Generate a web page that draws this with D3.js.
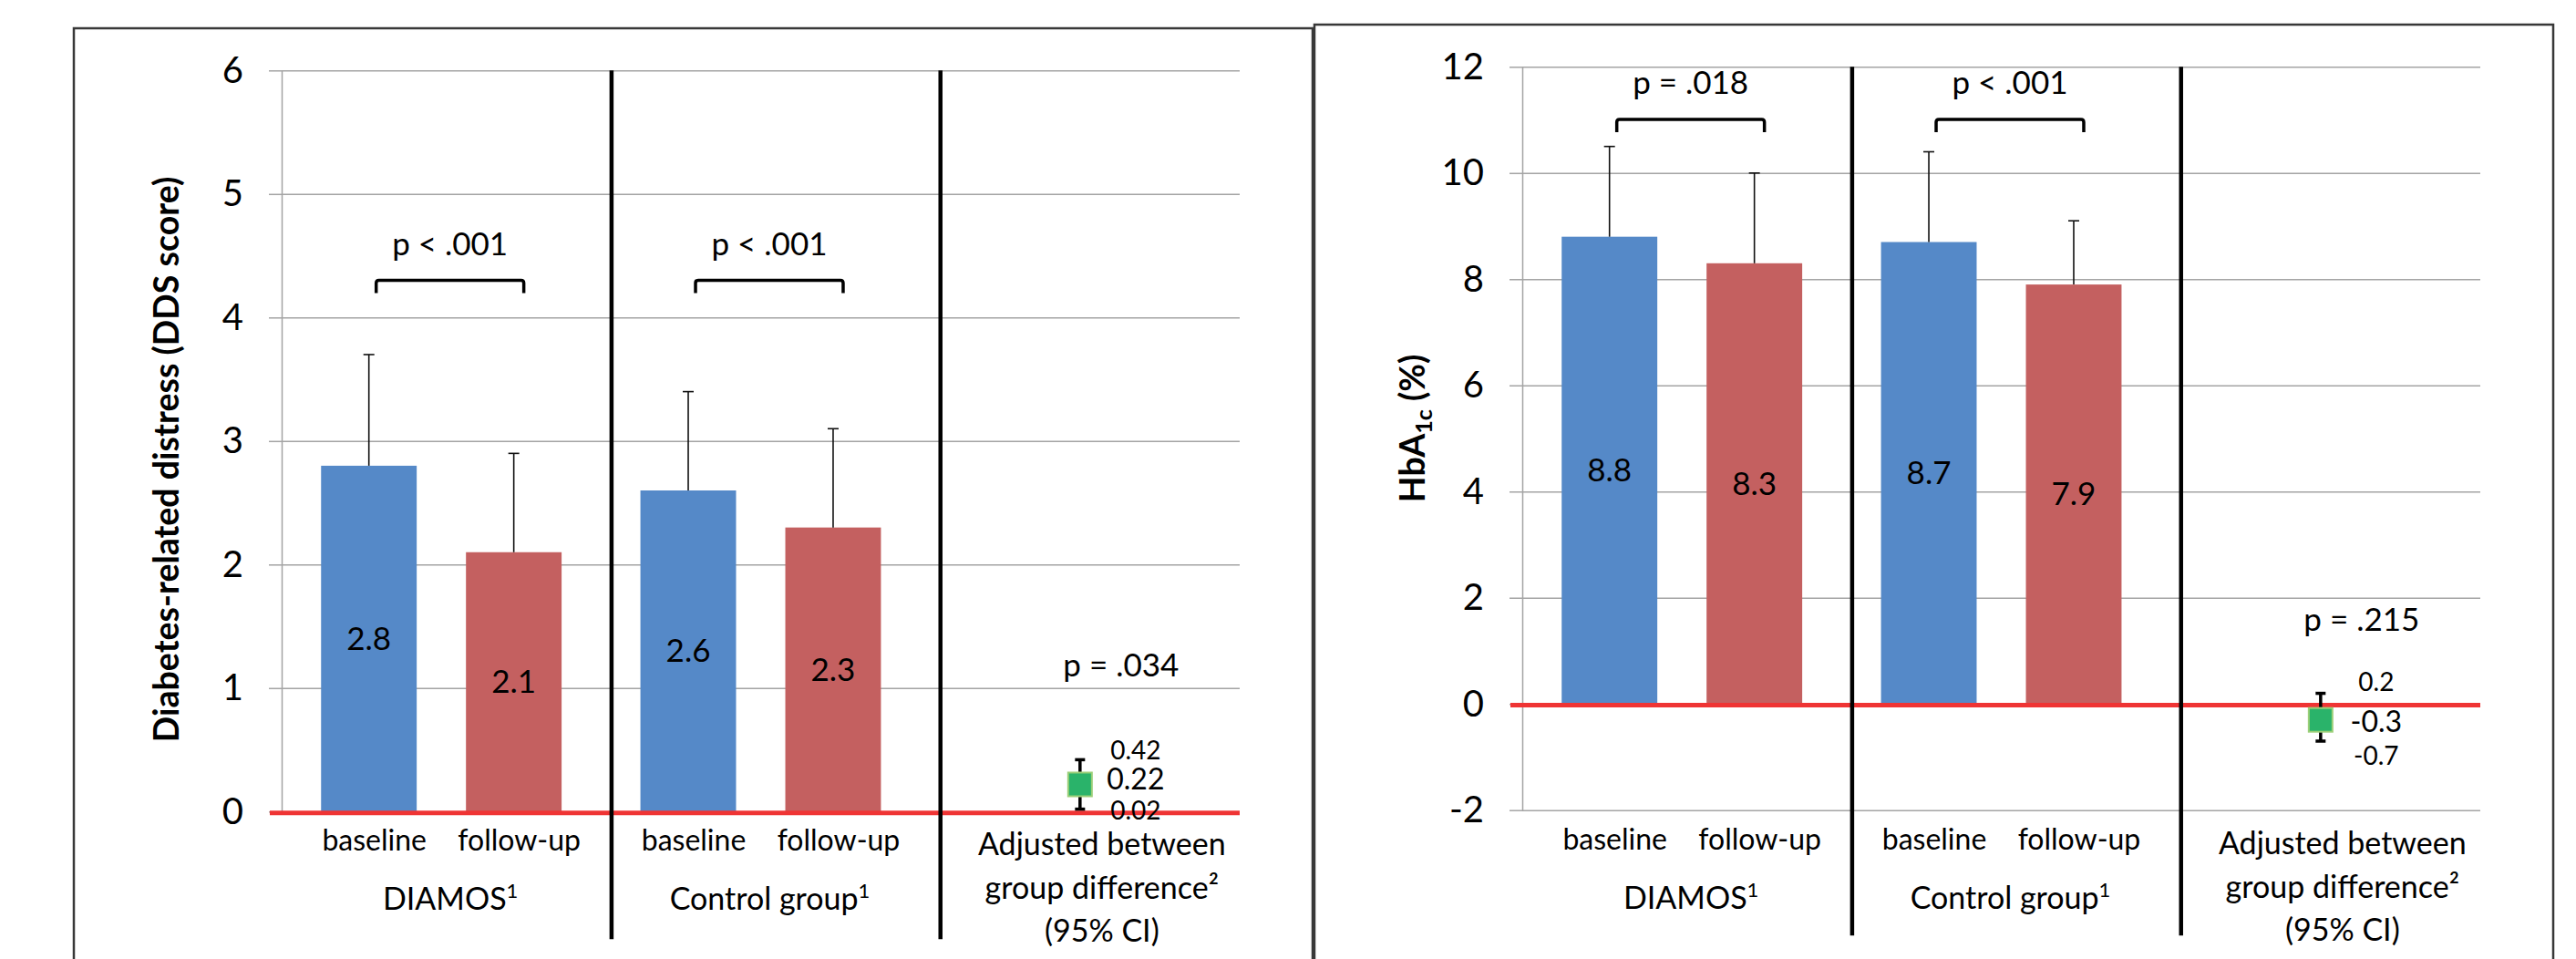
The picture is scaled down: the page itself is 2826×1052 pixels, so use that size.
<!DOCTYPE html>
<html>
<head>
<meta charset="utf-8">
<script src="https://cdn.jsdelivr.net/npm/d3@7"></script>
<style>
  body { margin: 0; background: #fff; }
  text { font-family: Lato, "Open Sans", sans-serif; fill: #000; }
</style>
</head>
<body>
<svg id="chart" width="2826" height="1052"></svg>
<script>
// ---- data ----
const groups = ["DIAMOS", "Control group", "Adjusted"];
const timepoints = ["baseline", "follow-up"];

// order: DIAMOS baseline, DIAMOS follow-up, control baseline, control follow-up
const ddsMeans = [2.8, 2.1, 2.6, 2.3];
const ddsSd = [0.9, 0.8, 0.8, 0.8];
const ddsDiff = [0.22, 0.02, 0.42];          // estimate, lower CI, upper CI
const ddsP = ["p < .001", "p < .001", "p = .034"];
const ddsTicks = [0, 1, 2, 3, 4, 5, 6];

const hbaMeans = [8.8, 8.3, 8.7, 7.9];
const hbaSd = [1.7, 1.7, 1.7, 1.2];
const hbaDiff = [-0.3, -0.7, 0.2];
const hbaP = ["p = .018", "p < .001", "p = .215"];
const hbaTicks = [-2, 0, 2, 4, 6, 8, 10, 12];

const colors = { "baseline": "#5589C8", "follow-up": "#C46060" };

const svg = d3.select("#chart");

// ---- layout for the two panels ----
const panels = [
  {
    frame: [81, 31], plot: { left: 309, right: 1360, top: 77.3, bottom: 890.3 },
    domain: [0, 6], ticks: ddsTicks, means: ddsMeans, sd: ddsSd, diff: ddsDiff, p: ddsP,
    title: "dds", titlePos: [183, 504], bracketY: 307.5, diffPY: 741.7, ciDy: [0, 6, 11]
  },
  {
    frame: [1442, 27], plot: { left: 1670, right: 2721, top: 73.3, bottom: 888.7 },
    domain: [-2, 12], ticks: hbaTicks, means: hbaMeans, sd: hbaSd, diff: hbaDiff, p: hbaP,
    title: "hba", titlePos: [1550, 470], bracketY: 131, diffPY: 691.7, ciDy: [-3, 13, 26]
  }
];

panels.forEach(drawPanel);

function drawPanel(cfg) {
  const p = cfg.plot;
  const width = p.right - p.left;

  const g = svg.append("g");

  // frame
  g.append("rect")
    .attr("x", cfg.frame[0]).attr("y", cfg.frame[1])
    .attr("width", 1359).attr("height", 1100)
    .attr("fill", "#fff").attr("stroke", "#383838").attr("stroke-width", 2.5);

  const y = d3.scaleLinear().domain(cfg.domain).range([p.bottom, p.top]);
  const x0 = d3.scaleBand().domain(groups).range([p.left, p.right]);
  const x1 = d3.scaleBand().domain(timepoints).range([0, x0.bandwidth()])
    .paddingInner(0.34).paddingOuter(0.272);
  const xs = d3.scaleLinear().domain([0, groups.length]).range([p.left, p.right]);

  // gridlines
  g.append("g")
    .attr("transform", "translate(" + p.left + ",0)")
    .call(d3.axisLeft(y).tickValues(cfg.ticks).tickSize(-width).tickFormat(""))
    .call(a => a.select(".domain").remove())
    .call(a => a.selectAll("line").attr("stroke", "#A4A4A4").attr("stroke-width", 1.5));

  // axis with outward ticks and labels
  g.append("g")
    .attr("transform", "translate(" + p.left + ",0)")
    .call(d3.axisLeft(y).tickValues(cfg.ticks).tickFormat(d => String(d))
      .tickSizeInner(14).tickSizeOuter(0).tickPadding(28))
    .call(a => a.select(".domain").attr("stroke", "#A4A4A4").attr("stroke-width", 1.5))
    .call(a => a.selectAll("line").attr("stroke", "#A4A4A4").attr("stroke-width", 1.5))
    .call(a => a.selectAll("text")
      .style("font-family", "Lato, 'Open Sans', sans-serif")
      .attr("font-size", 40).attr("fill", "#000"));

  // bars
  const bars = cfg.means.map((v, i) => ({
    group: groups[Math.floor(i / 2)], time: timepoints[i % 2], value: v, sd: cfg.sd[i]
  }));
  const cx = d => x0(d.group) + x1(d.time) + x1.bandwidth() / 2;

  g.selectAll(".bar").data(bars).enter().append("rect")
    .attr("class", "bar")
    .attr("x", d => x0(d.group) + x1(d.time))
    .attr("width", x1.bandwidth())
    .attr("y", d => y(d.value))
    .attr("height", d => y(0) - y(d.value))
    .attr("fill", d => colors[d.time]);

  // zero line
  g.append("line")
    .attr("x1", p.left - 13).attr("x2", p.right)
    .attr("y1", y(0) + 1.4).attr("y2", y(0) + 1.4)
    .attr("stroke", "#EF3434").attr("stroke-width", 5);

  // SD error bars (upper only)
  const eb = g.selectAll(".err").data(bars).enter().append("g").attr("class", "err");
  eb.append("line")
    .attr("x1", cx).attr("x2", cx)
    .attr("y1", d => y(d.value)).attr("y2", d => y(d.value + d.sd))
    .attr("stroke", "#111").attr("stroke-width", 1.6);
  eb.append("line")
    .attr("x1", d => cx(d) - 6).attr("x2", d => cx(d) + 6)
    .attr("y1", d => y(d.value + d.sd)).attr("y2", d => y(d.value + d.sd))
    .attr("stroke", "#111").attr("stroke-width", 1.6);

  // bar value labels
  g.selectAll(".val").data(bars).enter().append("text")
    .attr("x", cx)
    .attr("y", d => y(d.value / 2))
    .attr("dy", "0.35em")
    .attr("text-anchor", "middle")
    .attr("font-size", 35)
    .text(d => d.value.toFixed(1));

  // dividers between the groups
  [1.033, 2.063].forEach(t => {
    g.append("line")
      .attr("x1", xs(t)).attr("x2", xs(t))
      .attr("y1", p.top).attr("y2", p.top + 953)
      .attr("stroke", "#000").attr("stroke-width", 4.5);
  });

  // brackets with p values for the within-group change
  groups.slice(0, 2).forEach((grp, i) => {
    const a = x0(grp) + x1("baseline") + x1.bandwidth() / 2 + 8;
    const b = x0(grp) + x1("follow-up") + x1.bandwidth() / 2 + 11;
    const by = cfg.bracketY;
    g.append("path")
      .attr("d", "M" + a + "," + (by + 14) + "L" + a + "," + (by + 3) +
        "Q" + a + "," + by + " " + (a + 3) + "," + by +
        "L" + (b - 3) + "," + by + "Q" + b + "," + by + " " + b + "," + (by + 3) +
        "L" + b + "," + (by + 14))
      .attr("fill", "none").attr("stroke", "#000").attr("stroke-width", 3.5);
    g.append("text")
      .attr("x", (a + b) / 2).attr("y", by - 28)
      .attr("text-anchor", "middle").attr("font-size", 35)
      .text(cfg.p[i]);
  });

  // adjusted between group difference with 95% CI
  const mx = x0("Adjusted") + x0.bandwidth() / 2;
  const [est, lo, hi] = cfg.diff;
  g.append("line")
    .attr("x1", mx).attr("x2", mx).attr("y1", y(hi)).attr("y2", y(lo))
    .attr("stroke", "#000").attr("stroke-width", 3.5);
  [hi, lo].forEach(v => {
    g.append("line")
      .attr("x1", mx - 5.5).attr("x2", mx + 5.5).attr("y1", y(v)).attr("y2", y(v))
      .attr("stroke", "#000").attr("stroke-width", 3.5);
  });
  g.append("rect")
    .attr("x", mx - 13).attr("y", y(est) - 13)
    .attr("width", 26).attr("height", 26)
    .attr("fill", "#2AB36A").attr("stroke", "#9CCF78").attr("stroke-width", 2);

  const ciLabels = [
    { v: hi, size: 28, dy: cfg.ciDy[0] },
    { v: est, size: 32, dy: cfg.ciDy[1] },
    { v: lo, size: 28, dy: cfg.ciDy[2] }
  ];
  g.selectAll(".ci").data(ciLabels).enter().append("text")
    .attr("x", mx + 61)
    .attr("y", d => y(d.v) + d.dy)
    .attr("text-anchor", "middle")
    .attr("font-size", d => d.size)
    .text(d => String(d.v));

  g.append("text")
    .attr("x", mx + 45).attr("y", cfg.diffPY)
    .attr("text-anchor", "middle").attr("font-size", 35)
    .text(cfg.p[2]);

  // category labels
  const catY = y(cfg.domain[0]) + 43;
  g.selectAll(".cat").data(bars).enter().append("text")
    .attr("x", d => cx(d) + 6)
    .attr("y", catY)
    .attr("text-anchor", "middle")
    .attr("font-size", 32)
    .text(d => d.time);

  groups.slice(0, 2).forEach(grp => {
    const t = g.append("text")
      .attr("x", x0(grp) + x0.bandwidth() / 2 + 10)
      .attr("y", catY + 65)
      .attr("text-anchor", "middle")
      .attr("font-size", 34)
      .text(grp);
    t.append("tspan").attr("font-size", 22).attr("dy", -13).text("1");
  });

  const adj = g.append("text")
    .attr("x", mx + 24).attr("y", catY + 5)
    .attr("text-anchor", "middle").attr("font-size", 34);
  adj.append("tspan").attr("x", mx + 24).attr("dy", 0).text("Adjusted between");
  adj.append("tspan").attr("x", mx + 24).attr("dy", 48).text("group difference²");
  adj.append("tspan").attr("x", mx + 24).attr("dy", 47).text("(95% CI)");

  // y axis title
  const tt = g.append("text")
    .attr("transform", "translate(" + cfg.titlePos[0] + "," + cfg.titlePos[1] + ") rotate(-90)")
    .attr("text-anchor", "middle")
    .attr("dy", "0.35em")
    .attr("font-size", 37.5)
    .attr("font-weight", "bold");
  if (cfg.title === "dds") {
    tt.text("Diabetes-related distress (DDS score)");
  } else {
    tt.append("tspan").text("HbA");
    tt.append("tspan").attr("font-size", 25).attr("dy", 8).text("1c");
    tt.append("tspan").attr("dy", -8).text(" (%)");
  }
}
</script>
</body>
</html>
